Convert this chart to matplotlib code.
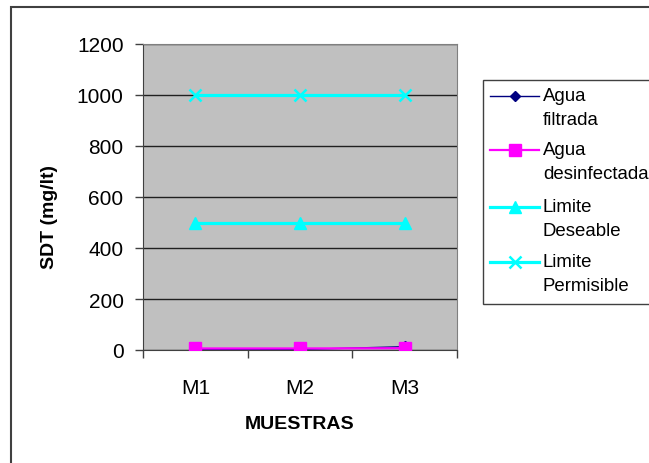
import matplotlib
matplotlib.use("Agg")
import matplotlib.pyplot as plt
from matplotlib.patches import Rectangle
from matplotlib.lines import Line2D

categories = ["M1", "M2", "M3"]
agua_filtrada = [2, 2, 13]
agua_desinfectada = [6, 6, 7]
limite_deseable = [500, 500, 500]
limite_permisible = [1000, 1000, 1000]
y_ticks = [0, 200, 400, 600, 800, 1000, 1200]
series_labels = ["Agua\nfiltrada", "Agua\ndesinfectada", "Limite\nDeseable", "Limite\nPermisible"]

plt.rcParams['font.family'] = ['Liberation Sans', 'DejaVu Sans']

W, H = 649, 464
fig = plt.figure(figsize=(W / 100, H / 100), dpi=100)


def fx(px):
    return px / W


def fy(py):
    return 1 - py / H


# outer chart border
fig.patches.append(Rectangle((fx(11), fy(470)), fx(700) - fx(11), fy(8) - fy(470), transform=fig.transFigure,
                             fill=False, edgecolor='#404040', linewidth=1.5))

ax = fig.add_axes([fx(143), fy(351), fx(457) - fx(143), fy(45) - fy(351)])
ax.set_facecolor('#C0C0C0')
x = list(range(len(categories)))

styles = [
    dict(color='#000080', marker='D', markersize=6, linewidth=1, zorder=3),
    dict(color='#FF00FF', marker='s', markersize=8, linewidth=1.6, zorder=4),
    dict(color='#00FFFF', marker='^', markersize=9, linewidth=2.3, zorder=3),
    dict(color='#00FFFF', marker='x', markersize=9, markeredgewidth=1.8, linewidth=2.3, zorder=3),
]
data = [agua_filtrada, agua_desinfectada, limite_deseable, limite_permisible]
for vals, st, lab in zip(data, styles, series_labels):
    ax.plot(x, vals, label=lab, **st)

ax.set_xlim(-0.5, 2.5)
ax.set_ylim(0, 1200)
ax.set_yticks(y_ticks)
ax.set_yticklabels([str(v) for v in y_ticks], fontsize=15)
ax.set_xticks(x)
ax.set_xticklabels(categories, fontsize=15)
ax.tick_params(axis='x', length=0, pad=20)
ax.set_xticks([-0.5, 0.5, 1.5, 2.5], minor=True)
ax.tick_params(axis='x', which='minor', length=6, width=1, color='#404040', direction='out')
ax.tick_params(axis='y', length=6, width=1, color='#404040', direction='out', pad=8)
ax.grid(axis='y', color='#202020', linewidth=1)
ax.set_axisbelow(True)
for s in ['top', 'right']:
    ax.spines[s].set_color('#808080')
ax.spines['left'].set_color('#404040')
ax.spines['bottom'].set_color('#404040')

ax.set_ylabel('SDT (mg/lt)', fontsize=14, fontweight='bold')
ax.yaxis.set_label_coords(fx(50), fy(217), transform=fig.transFigure)
ax.yaxis.label.set_ha('center')
ax.yaxis.label.set_va('center')
ax.set_xlabel('MUESTRAS', fontsize=14, fontweight='bold')
ax.xaxis.set_label_coords(fx(300), fy(425), transform=fig.transFigure)
ax.xaxis.label.set_va('center')

# legend (drawn manually so that handles align with the first line of each label)
fig.patches.append(Rectangle((fx(483), fy(305)), fx(720) - fx(483), fy(81) - fy(305), transform=fig.transFigure,
                             fill=True, facecolor='white', edgecolor='#404040', linewidth=1))
first_line_y = [97, 151, 208, 263]
for st, lab, yy in zip(styles, series_labels, first_line_y):
    kw = {k: v for k, v in st.items() if k != 'zorder'}
    if kw['marker'] == 'D':
        kw['markersize'] = 5
    fig.add_artist(Line2D([fx(490), fx(514.5), fx(539)], [fy(yy)] * 3, transform=fig.transFigure,
                          markevery=[1], **kw))
    fig.text(fx(543), fy(yy - 9), lab, fontsize=13.4, ha='left', va='top', linespacing=1.55,
             transform=fig.transFigure)

fig.savefig('out.png', dpi=100)
